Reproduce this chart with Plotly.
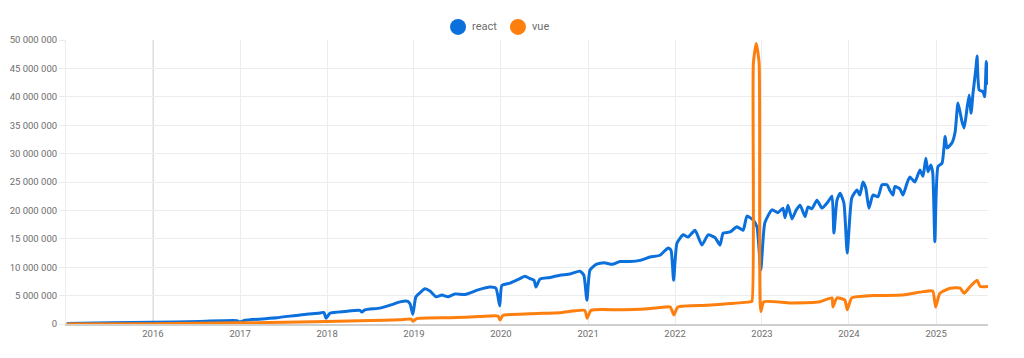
import plotly.graph_objects as go

react_dates = [
    "2015-01-04", "2015-07-04", "2016-01-01", "2016-07-16", "2016-12-18", "2016-12-30", "2017-01-22",
    "2017-06-04", "2017-09-09", "2017-11-25", "2017-12-19", "2017-12-28", "2018-01-13", "2018-03-17",
    "2018-05-19", "2018-05-27", "2018-06-09", "2018-08-11", "2018-09-30", "2018-11-03", "2018-12-06",
    "2018-12-16", "2018-12-27", "2019-01-09", "2019-01-26", "2019-02-16", "2019-03-09", "2019-04-03",
    "2019-04-28", "2019-05-23", "2019-06-22", "2019-08-03", "2019-09-27", "2019-11-16", "2019-12-11",
    "2019-12-27", "2020-01-05", "2020-02-08", "2020-03-21", "2020-04-11", "2020-05-02", "2020-05-19",
    "2020-05-27", "2020-06-13", "2020-07-25", "2020-09-05", "2020-10-17", "2020-11-28", "2020-12-14",
    "2020-12-27", "2021-01-09", "2021-02-04", "2021-03-09", "2021-04-12", "2021-05-15", "2021-06-26",
    "2021-08-07", "2021-09-18", "2021-10-30", "2021-12-03", "2021-12-15", "2021-12-26", "2022-01-09",
    "2022-02-04", "2022-02-25", "2022-03-26", "2022-04-24", "2022-05-20", "2022-06-18", "2022-07-09",
    "2022-07-22", "2022-08-20", "2022-09-18", "2022-10-14", "2022-10-30", "2022-11-25", "2022-12-11",
    "2022-12-27", "2023-01-13", "2023-02-12", "2023-03-09", "2023-03-30", "2023-04-08", "2023-04-20",
    "2023-05-07", "2023-05-24", "2023-06-10", "2023-07-01", "2023-07-13", "2023-07-30", "2023-08-20",
    "2023-09-10", "2023-10-05", "2023-10-22", "2023-10-30", "2023-11-12", "2023-11-25", "2023-12-11",
    "2023-12-25", "2024-01-13", "2024-02-04", "2024-02-16", "2024-02-29", "2024-03-12", "2024-03-25",
    "2024-04-11", "2024-05-02", "2024-05-19", "2024-06-09", "2024-06-21", "2024-07-04", "2024-07-12",
    "2024-08-02", "2024-08-15", "2024-09-01", "2024-09-13", "2024-10-04", "2024-10-25", "2024-11-07",
    "2024-11-19", "2024-11-28", "2024-12-10", "2024-12-18", "2024-12-27", "2025-01-09", "2025-01-26",
    "2025-02-08", "2025-02-16", "2025-03-09", "2025-03-22", "2025-04-03", "2025-04-20", "2025-04-29",
    "2025-05-11", "2025-05-20", "2025-05-28", "2025-06-05", "2025-06-18", "2025-06-22", "2025-07-01",
    "2025-07-17", "2025-07-24", "2025-07-31", "2025-08-07",
]
react_millions = [
    0.1, 0.2, 0.3, 0.45, 0.6, 0.35, 0.65,
    1.1, 1.6, 1.9, 2.0, 1.0, 1.9, 2.2,
    2.4, 2.1, 2.5, 2.8, 3.4, 3.9, 4.0,
    3.5, 1.7, 4.8, 5.5, 6.2, 5.8, 4.8,
    5.1, 4.8, 5.3, 5.2, 6.0, 6.5, 6.3,
    3.2, 6.8, 7.2, 8.0, 8.4, 8.0, 7.7,
    6.5, 7.9, 8.2, 8.6, 8.8, 9.3, 8.6,
    4.2, 9.5, 10.5, 10.8, 10.5, 11.0, 11.0,
    11.2, 11.8, 12.1, 13.4, 13.0, 7.7, 14.2,
    15.7, 15.3, 16.5, 13.9, 15.7, 15.2, 13.9,
    16.0, 16.2, 17.1, 16.5, 19.0, 18.3, 17.1,
    9.5, 17.8, 20.1, 19.6, 20.4, 18.7, 20.9,
    18.5, 20.0, 20.9, 18.9, 20.6, 20.3, 21.8,
    20.4, 21.5, 22.5, 16.0, 21.8, 23.0, 21.3,
    12.5, 22.2, 23.6, 22.7, 25.0, 23.9, 20.4,
    22.7, 22.4, 24.5, 24.5, 23.5, 22.7, 24.2,
    23.8, 22.7, 24.8, 25.9, 25.0, 27.1, 26.0,
    29.2, 26.8, 28.0, 26.6, 14.5, 27.7, 28.3,
    33.0, 31.0, 31.9, 33.8, 38.9, 35.6, 34.5,
    38.0, 40.3, 37.1, 40.6, 45.3, 47.2, 41.2,
    40.9, 40.0, 46.2, 42.1,
]

vue_dates = [
    "2015-01-04", "2016-01-01", "2017-01-01", "2017-09-09", "2018-01-01", "2018-07-01", "2018-11-03",
    "2018-12-20", "2018-12-28", "2019-01-13", "2019-06-01", "2019-10-05", "2019-12-20", "2019-12-28",
    "2020-01-09", "2020-05-02", "2020-09-05", "2020-12-18", "2020-12-28", "2021-01-13", "2021-05-15",
    "2021-08-07", "2021-10-30", "2021-12-12", "2021-12-27", "2022-01-13", "2022-05-15", "2022-08-20",
    "2022-11-12", "2022-11-20", "2022-11-26", "2022-12-08", "2022-12-20", "2022-12-27", "2023-01-09",
    "2023-04-28", "2023-09-01", "2023-10-22", "2023-10-26", "2023-11-12", "2023-12-15", "2023-12-25",
    "2024-01-13", "2024-04-11", "2024-08-15", "2024-11-07", "2024-12-18", "2024-12-30", "2025-01-17",
    "2025-03-01", "2025-04-12", "2025-04-29", "2025-05-24", "2025-06-22", "2025-07-05", "2025-08-07",
]
vue_millions = [
    0.0, 0.05, 0.2, 0.35, 0.45, 0.6, 0.75,
    0.85, 0.5, 0.95, 1.1, 1.3, 1.4, 0.7,
    1.5, 1.8, 2.0, 2.4, 1.0, 2.4, 2.5,
    2.6, 2.9, 3.0, 1.6, 3.0, 3.3, 3.6,
    3.9, 4.0, 46.0, 49.4, 46.0, 2.2, 3.9,
    3.7, 3.9, 4.6, 3.0, 4.6, 4.2, 2.5,
    4.6, 5.0, 5.1, 5.7, 5.8, 3.0, 5.4,
    6.3, 6.3, 5.4, 6.6, 7.7, 6.6, 6.6,
]

year_ticks = ["2016-01-01", "2017-01-01", "2018-01-01", "2019-01-01", "2020-01-01",
              "2021-01-01", "2022-01-01", "2023-01-01", "2024-01-01", "2025-01-01"]
year_labels = ["2016", "2017", "2018", "2019", "2020", "2021", "2022", "2023", "2024", "2025"]

series_names = ["react", "vue"]
series_colors = ["#0b6fdc", "#ff7f0e"]

react_values = [v * 1_000_000 for v in react_millions]
vue_values = [v * 1_000_000 for v in vue_millions]

# page is drawn inside an 8px body margin; size the figure to fit the window
W, H = 1008, 342
L, T, R, B = 58, 32, 28, 26

fig = go.Figure()
for name, dates, vals, col in [
    (series_names[0], react_dates, react_values, series_colors[0]),
    (series_names[1], vue_dates, vue_values, series_colors[1]),
]:
    fig.add_trace(go.Scatter(
        x=dates, y=vals, mode="lines", name=name,
        line=dict(color=col, width=3, shape="spline", smoothing=0.5),
        showlegend=False, hoverinfo="skip",
    ))

fig.add_shape(type="line", xref="x", yref="paper", x0="2016-01-01", x1="2016-01-01",
              y0=0, y1=1, line=dict(color="#d0d0d0", width=1.5), layer="below")

# manual legend (circles + labels) centred above the plot
legend_x_circle = [0.4252, 0.4902]
legend_x_text = [0.4382, 0.5033]
legend_y = 1.046
for name, col, xc, xt in zip(series_names, series_colors, legend_x_circle, legend_x_text):
    fig.add_shape(type="circle", xref="paper", yref="paper",
                  xsizemode="pixel", ysizemode="pixel", xanchor=xc, yanchor=legend_y,
                  x0=-8, x1=8, y0=-8, y1=8, fillcolor=col, line=dict(width=0))
    fig.add_annotation(xref="paper", yref="paper", x=xt, y=legend_y, text=name,
                       showarrow=False, xanchor="left", yanchor="middle",
                       font=dict(size=11, color="#6e6e6e"))

fig.update_layout(
    width=W, height=H,
    margin=dict(l=L, r=R, t=T, b=B, autoexpand=False),
    paper_bgcolor="white", plot_bgcolor="white",
    separators=". ",
    font=dict(family="Roboto, Arial, sans-serif", size=10, color="#6e6e6e"),
    showlegend=False,
)
fig.update_xaxes(
    type="date", range=["2015-01-01", "2025-08-07"],
    tickvals=year_ticks, ticktext=year_labels,
    showgrid=True, gridcolor="#ececec", gridwidth=1,
    showline=True, linecolor="#cfcfcf", linewidth=2,
    ticks="", zeroline=False, automargin=False,
    tickfont=dict(size=9.5),
)
fig.update_yaxes(
    range=[0, 50_000_000], dtick=5_000_000, tickformat=",d",
    showgrid=True, gridcolor="#ececec", gridwidth=1,
    zeroline=False, showline=True, linecolor="#ececec", linewidth=1,
    ticks="outside", ticklen=6, tickcolor="#ececec", automargin=False,
    tickfont=dict(size=9.5),
)

fig.write_html("out.html")
